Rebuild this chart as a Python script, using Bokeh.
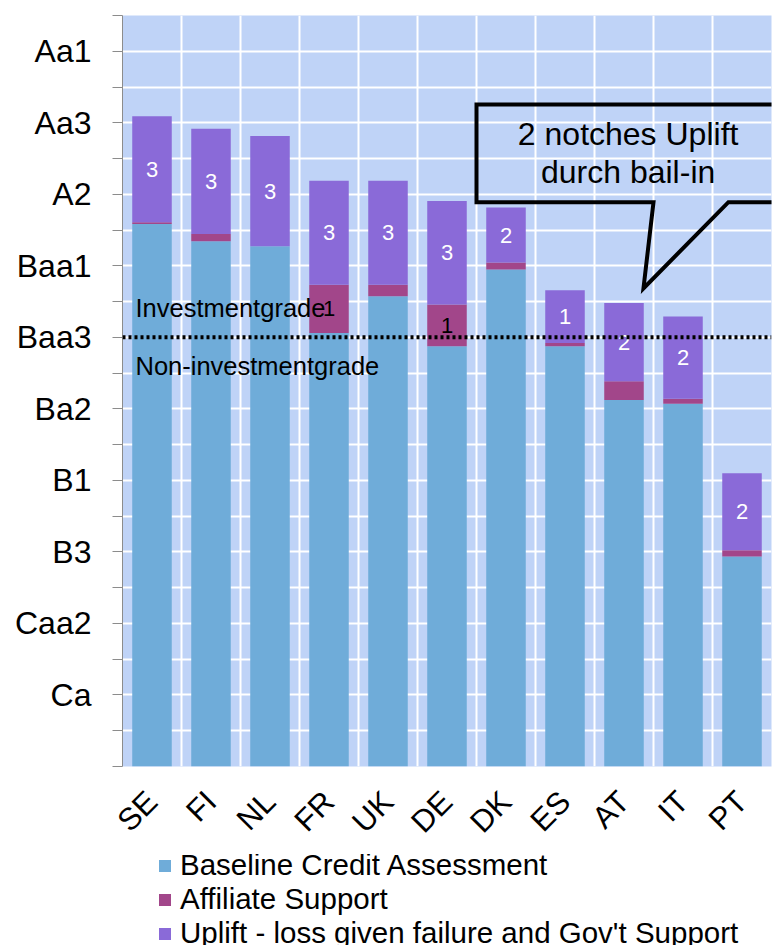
import math
from bokeh.plotting import figure
from bokeh.layouts import column
from bokeh.models import (ColumnDataSource, FactorRange, Range1d, FixedTicker, Span,
                          Label, Legend, LegendItem)
from bokeh.core.properties import value
from bokeh.embed import file_html
from bokeh.resources import INLINE

# ---------------- data ----------------
countries = ["SE", "FI", "NL", "FR", "UK", "DE", "DK", "ES", "AT", "IT", "PT"]
baseline = [15.17, 14.69, 14.55, 12.12, 13.15, 11.75, 13.90, 11.75, 10.25, 10.14, 5.87]
affiliate = [0.05, 0.20, 0.00, 1.35, 0.32, 1.17, 0.19, 0.09, 0.52, 0.14, 0.18]
uplift = [2.96, 2.94, 3.08, 2.91, 2.91, 2.89, 1.54, 1.48, 2.19, 2.30, 2.15]
uplift_labels = ["3", "3", "3", "3", "3", "3", "2", "1", "2", "2", "2"]
affiliate_labels = ["", "", "", "1", "", "1", "", "", "", "", ""]

rating_ticks = list(range(0, 22))
rating_names = {20: "Aa1", 18: "Aa3", 16: "A2", 14: "Baa1", 12: "Baa3",
                10: "Ba2", 8: "B1", 6: "B3", 4: "Caa2", 2: "Ca"}
investment_threshold = 12

series_names = ["Baseline Credit Assessment", "Affiliate Support",
                "Uplift - loss given failure and Gov't Support"]

# ---------------- styles ----------------
FONT = "Liberation Sans"
BG = "#BFD3F7"
C_BASE = "#6FACD9"
C_AFF = "#A2468A"
C_UPL = "#8A6AD8"
COLORS = [C_BASE, C_AFF, C_UPL]

src = ColumnDataSource(dict(
    country=countries, base=baseline, aff=affiliate, upl=uplift,
    upl_y=[b + a + u / 2 for b, a, u in zip(baseline, affiliate, uplift)],
    aff_y=[b + a / 2 for b, a in zip(baseline, affiliate)],
    upl_lab=uplift_labels, aff_lab=affiliate_labels,
))

p = figure(x_range=FactorRange(*countries), y_range=Range1d(0, 21),
           frame_width=649, frame_height=751, output_backend="svg", toolbar_location=None,
           min_border_left=122, min_border_right=6, min_border_top=15,
           min_border_bottom=0)
p.background_fill_color = BG
p.border_fill_color = "white"
p.outline_line_color = None

# grid
p.xgrid.grid_line_color = None
p.ygrid.ticker = FixedTicker(ticks=rating_ticks)
p.ygrid.grid_line_color = "white"
p.ygrid.grid_line_width = 2
for i in range(1, len(countries)):
    p.add_layout(Span(location=i, dimension="height", line_color="white",
                      line_width=2, level="underlay"))

# bars
rs = p.vbar_stack(["base", "aff", "upl"], x="country", width=0.67,
                  color=COLORS, line_color=None, source=src)

# segment labels
p.text(x="country", y="upl_y", text="upl_lab", source=src, text_align="center",
       text_baseline="middle", text_color="white", text_font=value(FONT),
       text_font_size="22px")
p.text(x="country", y="aff_y", text="aff_lab", source=src, text_align="center",
       text_baseline="middle", text_color="black", text_font=value(FONT),
       text_font_size="22px")

# investment grade line + labels
p.add_layout(Span(location=investment_threshold, dimension="width", line_color="black",
                  line_width=4, line_dash="3 3"))
p.add_layout(Label(x=0.22, y=12.81, text="Investmentgrade", text_align="left",
                   text_baseline="middle", text_font=FONT, text_font_size="25.5px",
                   text_color="black"))
p.add_layout(Label(x=0.22, y=11.19, text="Non-investmentgrade", text_align="left",
                   text_baseline="middle", text_font=FONT, text_font_size="25.5px",
                   text_color="black"))

# callout
p.line(x=[11.6, 6.0, 6.0, 9.0, 8.83, 10.27, 11.6],
       y=[18.51, 18.51, 15.78, 15.78, 13.37, 15.78, 15.78],
       line_color="black", line_width=4, line_join="miter")
p.add_layout(Label(x=8.57, y=17.70, text="2 notches Uplift", text_align="center",
                   text_baseline="middle", text_font=FONT, text_font_size="32px",
                   text_color="black"))
p.add_layout(Label(x=8.57, y=16.62, text="durch bail-in", text_align="center",
                   text_baseline="middle", text_font=FONT, text_font_size="32px",
                   text_color="black"))

# axes
ya = p.yaxis[0]
ya.ticker = FixedTicker(ticks=rating_ticks)
ya.major_label_overrides = {t: rating_names.get(t, "") for t in rating_ticks}
ya.major_label_text_font = FONT
ya.major_label_text_font_size = "32px"
ya.major_label_text_color = "black"
ya.axis_line_color = "#8C8C8C"
ya.major_tick_line_color = "#8C8C8C"
ya.major_tick_out = 10
ya.major_tick_in = 0
ya.minor_tick_line_color = None
ya.major_label_standoff = 21

xa = p.xaxis[0]
xa.axis_line_color = None
xa.major_tick_line_color = None
xa.minor_tick_line_color = None
xa.major_label_orientation = math.pi / 4
xa.major_label_text_font = FONT
xa.major_label_text_font_size = "31px"
xa.major_label_text_color = "black"
xa.major_label_standoff = 24

# ---------------- legend strip ----------------
strip_h = 91
p2 = figure(width=777, height=strip_h, x_range=Range1d(0, 1), y_range=Range1d(0, strip_h),
            x_axis_type=None, y_axis_type=None, output_backend="svg",
            toolbar_location=None, min_border_left=122, min_border_right=6,
            min_border_top=0, min_border_bottom=0)
p2.outline_line_color = None
p2.grid.visible = False
p2.background_fill_color = "white"
p2.border_fill_color = "white"

# legend proxies (outside the visible strip; only their legend swatches show)
legend_rs = [p2.vbar(x=[0.5], bottom=[-30], top=[-20], width=0.1,
                     color=c, line_color=None) for c in COLORS]
legend = Legend(items=[LegendItem(label=n, renderers=[r]) for n, r in zip(series_names, legend_rs)],
                location=(35, -5), orientation="vertical", padding=0, margin=0,
                spacing=0, glyph_width=15, glyph_height=15, label_standoff=8,
                label_height=34, label_text_font=FONT, label_text_font_size="29.5px",
                label_text_color="black", label_text_baseline="middle",
                border_line_color=None, background_fill_alpha=0)
p2.add_layout(legend, "center")

layout = column(p, p2, spacing=0)
open("out.html", "w").write(file_html(layout, INLINE))
